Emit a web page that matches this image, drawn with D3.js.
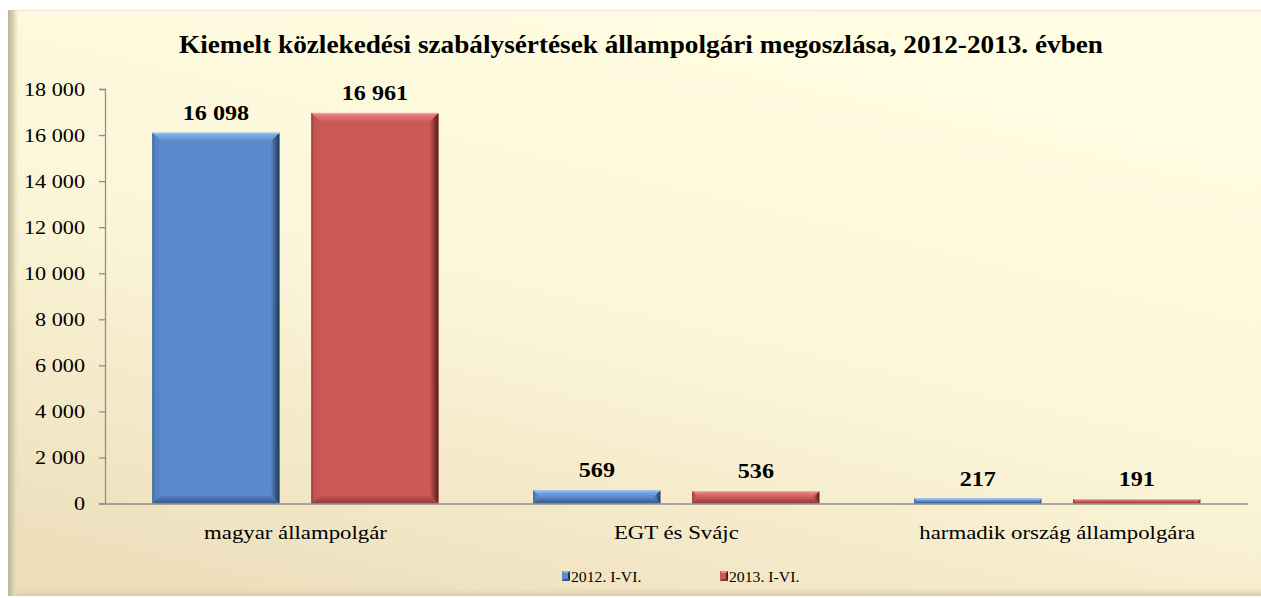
<!DOCTYPE html>
<html>
<head>
<meta charset="utf-8">
<script src="https://cdn.jsdelivr.net/npm/d3@7"></script>
<style>
  html, body { margin: 0; padding: 0; background: #ffffff; }
  svg { display: block; }
  text { font-family: "Liberation Serif", "Times New Roman", "DejaVu Serif", serif; fill: #000; }
</style>
</head>
<body>
<div id="chart"></div>
<script>
// ---- data ----
const title = "Kiemelt közlekedési szabálysértések állampolgári megoszlása, 2012-2013. évben";
const categories = ["magyar állampolgár", "EGT és Svájc", "harmadik ország állampolgára"];
const seriesNames = ["2012. I-VI.", "2013. I-VI."];
const values2012 = [16098, 569, 217];
const values2013 = [16961, 536, 191];
const yTicks = [0, 2000, 4000, 6000, 8000, 10000, 12000, 14000, 16000, 18000];

// ---- layout ----
const W = 1261, H = 598;
const plot = { left: 105, right: 1247.7, top: 89, bottom: 503.5 };
const SX = 1.2; // horizontal text stretch as in the reference

const locale = d3.formatLocale({ decimal: ",", thousands: "\u00a0", grouping: [3], currency: ["", ""] });
const fmt = locale.format(",d");

const palettes = [
  { id: "b", base: "#5A8ACB", top: "#86B4EE", topEdge: "#A9CBF3", left: "#4F7EBD", right: "#1E3858", bottom: "#34588A" },
  { id: "r", base: "#CD5856", top: "#EC8886", topEdge: "#F2A9A7", left: "#BD4E4C", right: "#561C1C", bottom: "#8C3A38" }
];

const svg = d3.select("#chart").append("svg").attr("width", W).attr("height", H);
const defs = svg.append("defs");

function grad(id, x1, y1, x2, y2, stops) {
  const g = defs.append("linearGradient").attr("id", id)
    .attr("x1", x1).attr("y1", y1).attr("x2", x2).attr("y2", y2);
  stops.forEach(s => g.append("stop").attr("offset", s[0]).attr("stop-color", s[1]).attr("stop-opacity", s[2] == null ? 1 : s[2]));
}

// background gradients
grad("bg", "0.7", "0", "0.2", "1", [["0", "#FFFDE2"], ["0.5", "#FCF6D9"], ["1", "#EDDFBC"]]);
grad("leftEdge", "0", "0", "1", "0", [["0", "#BDB49A"], ["0.5", "#DCD2B2"], ["1", "#EDE3C2", 0]]);
grad("topEdge", "0", "0", "0", "1", [["0", "#F3D9BE"], ["0.15", "#FFF7EC"], ["1", "#FFFDE6", 0]]);
grad("botEdge", "0", "0", "0", "1", [["0", "#E8DCB8", 0], ["1", "#D6CBA6"]]);

// bevel gradients
palettes.forEach(p => {
  grad(p.id + "R", "0", "0", "1", "0", [["0", p.base], ["1", p.right]]);
  grad(p.id + "B", "0", "0", "0", "1", [["0", p.base], ["1", p.bottom]]);
  grad(p.id + "T", "0", "0", "0", "1", [["0", p.top], ["1", p.base]]);
  grad(p.id + "L", "0", "0", "1", "0", [["0", p.left], ["1", p.base]]);
});

// panel
svg.append("rect").attr("x", 8).attr("y", 10).attr("width", W - 8).attr("height", 586).attr("fill", "url(#bg)");
svg.append("rect").attr("x", 8).attr("y", 10).attr("width", W - 8).attr("height", 11).attr("fill", "url(#topEdge)");
svg.append("rect").attr("x", 8).attr("y", 587).attr("width", W - 8).attr("height", 9).attr("fill", "url(#botEdge)");
svg.append("rect").attr("x", 8).attr("y", 10).attr("width", 11).attr("height", 586).attr("fill", "url(#leftEdge)");

// scales
const x0 = d3.scaleBand().domain(categories).range([plot.left, plot.right]).paddingInner(0).paddingOuter(0);
const x1 = d3.scaleBand().domain(seriesNames).range([0, x0.bandwidth()]).paddingInner(0.2013).paddingOuter(0.2985);
const y = d3.scaleLinear().domain([0, 18000]).range([plot.bottom, plot.top]);

// title
svg.append("g").attr("transform", `translate(641,53)`)
  .append("text").attr("transform", "scale(1.09,1)")
  .attr("text-anchor", "middle").attr("font-size", 25).attr("font-weight", "bold").text(title);

// y axis
const yAxis = svg.append("g").attr("transform", `translate(${plot.left},0)`)
  .call(d3.axisLeft(y).tickValues(yTicks).tickSize(6).tickFormat(fmt));
yAxis.select(".domain").attr("stroke", "#8E8E8E").attr("stroke-width", 1.3);
yAxis.selectAll(".tick line").attr("stroke", "#8E8E8E").attr("stroke-width", 1.3);
yAxis.selectAll(".tick text")
  .attr("x", -20 / SX).attr("dy", "0.34em")
  .attr("transform", `scale(${SX},1)`)
  .attr("font-size", 18.5).attr("font-family", "Liberation Serif, Times New Roman, serif").attr("fill", "#000");

// bars
const data = categories.map((c, i) => ({ cat: c, vals: [values2012[i], values2013[i]] }));
const barsG = svg.append("g");
const poly = pts => pts.map(q => q.join(",")).join(" ");
data.forEach(d => {
  d.vals.forEach((v, si) => {
    const p = palettes[si];
    const bx = x0(d.cat) + x1(seriesNames[si]);
    const bw = x1.bandwidth();
    const by = y(v);
    const bh = y(0) - y(v);
    const b = Math.min(9, bh / 2, bw / 2);
    const g = barsG.append("g");
    g.append("rect").attr("x", bx).attr("y", by).attr("width", bw).attr("height", bh).attr("fill", p.base);
    g.append("polygon").attr("points", poly([[bx, by], [bx + bw, by], [bx + bw - b, by + b], [bx + b, by + b]])).attr("fill", `url(#${p.id}T)`);
    g.append("polygon").attr("points", poly([[bx, by], [bx + b, by + b], [bx + b, by + bh - b], [bx, by + bh]])).attr("fill", `url(#${p.id}L)`);
    g.append("polygon").attr("points", poly([[bx + bw, by], [bx + bw, by + bh], [bx + bw - b, by + bh - b], [bx + bw - b, by + b]])).attr("fill", `url(#${p.id}R)`);
    g.append("polygon").attr("points", poly([[bx, by + bh], [bx + b, by + bh - b], [bx + bw - b, by + bh - b], [bx + bw, by + bh]])).attr("fill", `url(#${p.id}B)`);
    g.append("line").attr("x1", bx).attr("x2", bx + bw).attr("y1", by + 0.5).attr("y2", by + 0.5).attr("stroke", p.topEdge).attr("stroke-width", 1);
    g.append("line").attr("x1", bx + 0.5).attr("x2", bx + 0.5).attr("y1", by).attr("y2", by + bh).attr("stroke", p.right).attr("stroke-opacity", 0.5).attr("stroke-width", 1);
    // label
    svg.append("g").attr("transform", `translate(${bx + bw / 2},${by - 13})`)
      .append("text").attr("transform", "scale(1.15,1)")
      .attr("text-anchor", "middle").attr("font-size", 21).attr("font-weight", "bold")
      .text(fmt(v));
  });
});

// x axis
const xAxis = svg.append("g").attr("transform", `translate(0,${plot.bottom})`)
  .call(d3.axisBottom(x0).tickSize(0).tickSizeOuter(0));
xAxis.select(".domain").attr("stroke", "#8E8E8E").attr("stroke-width", 1.3);
xAxis.selectAll(".tick text")
  .attr("y", 35.5).attr("dy", 0)
  .attr("transform", `scale(${SX},1)`)
  .attr("font-size", 19).attr("font-family", "Liberation Serif, Times New Roman, serif").attr("fill", "#000");

// legend
const legendItems = [{ name: seriesNames[0], x: 562 }, { name: seriesNames[1], x: 720 }];
legendItems.forEach((it, i) => {
  const p = palettes[i];
  const g = svg.append("g").attr("transform", `translate(${it.x},571)`);
  g.append("rect").attr("x", 0).attr("y", 0).attr("width", 8).attr("height", 10).attr("fill", p.base);
  g.append("polygon").attr("points", "0,0 8,0 6,2 2,2").attr("fill", p.top);
  g.append("polygon").attr("points", "8,0 8,10 6,8 6,2").attr("fill", p.right);
  g.append("polygon").attr("points", "0,10 2,8 6,8 8,10").attr("fill", p.bottom);
  g.append("g").attr("transform", "translate(9,11)")
    .append("text").attr("transform", "scale(1.05,1)")
    .attr("font-size", 15).text(it.name);
});
</script>
</body>
</html>
